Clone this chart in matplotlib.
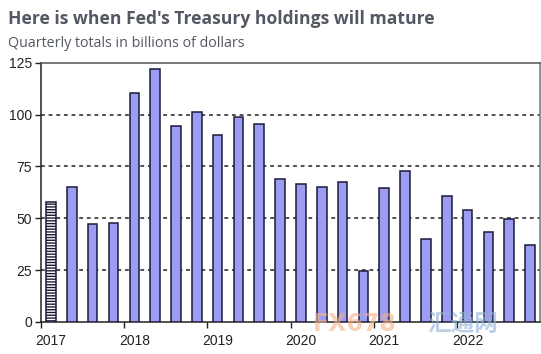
import numpy as np
import matplotlib.pyplot as plt
from matplotlib.ticker import FixedLocator

plt.rcParams['font.family'] = ['Liberation Sans', 'Noto Sans CJK SC', 'DejaVu Sans']
plt.rcParams['hatch.color'] = '#9c9cf2'

# 季度到期额（十亿美元）
values = [58, 65.2, 47.0, 47.5,
          110.5, 122, 94.4, 101.4,
          90, 98.6, 95.6, 68.7,
          66.6, 65.2, 67.6, 24.8,
          64.7, 72.9, 40.2, 60.5,
          53.8, 43.4, 49.6, 37.2]
years = ['2017', '2018', '2019', '2020', '2021', '2022']
y_ticks = [0, 25, 50, 75, 100, 125]

fig = plt.figure(figsize=(5.41, 3.54), dpi=100)
ax = fig.add_axes([0.075, 0.0904, 0.924, 0.7325])

x = np.arange(len(values)) + 0.5
bars = ax.bar(x, values, width=0.46, color='#9c9cf2', edgecolor='#1a1a38',
              linewidth=1.1, zorder=3)
bars[0].set_facecolor('white')
bars[0].set_hatch('------')

ax.set_xlim(0, len(values))
ax.set_ylim(0, 125)
ax.set_yticks(y_ticks)
for v in y_ticks[1:-1]:
    ax.axhline(v, color='#222222', linestyle=(0, (2.5, 2.5)), linewidth=1.1, zorder=1)

# 年份刻度在季度边界，标签放在每年第一季度下方
ax.xaxis.set_major_locator(FixedLocator([0, 4, 8, 12, 16, 20]))
ax.xaxis.set_major_formatter(plt.NullFormatter())
ax.xaxis.set_minor_locator(FixedLocator([0.5, 4.5, 8.5, 12.5, 16.5, 20.5]))
ax.set_xticklabels(years, minor=True)
ax.tick_params(axis='x', which='major', length=4, width=1, color='#222222')
ax.tick_params(axis='x', which='minor', length=0, pad=9, labelsize=10, labelcolor='#222222')
ax.tick_params(axis='y', length=4, width=1, color='#222222', labelsize=10,
               labelcolor='#222222', pad=2)

ax.spines['left'].set_color('#222222')
ax.spines['bottom'].set_color('#222222')
ax.spines['top'].set_color('#555555')
ax.spines['right'].set_color('#777777')
for s in ax.spines.values():
    s.set_linewidth(1.1)

fig.text(0.015, 0.946, "Here is when Fed's Treasury holdings will mature",
         family='Open Sans', fontweight='bold', fontsize=12.6, color='#545863',
         va='center', ha='left')
fig.text(0.015, 0.878, "Quarterly totals in billions of dollars",
         family='Open Sans', fontsize=10.3, color='#545863', va='center', ha='left')

# 水印
fig.text(0.655, 0.085, 'FX678', family='DejaVu Sans', fontsize=17, fontweight='bold',
         color='#f5b28a', alpha=0.6, ha='center', va='center')
fig.text(0.855, 0.085, '汇通网', family='Noto Sans CJK SC', fontsize=17, fontweight='bold',
         color='#8fb0d6', alpha=0.6, ha='center', va='center')

fig.savefig('out.png', dpi=100, facecolor='white')
